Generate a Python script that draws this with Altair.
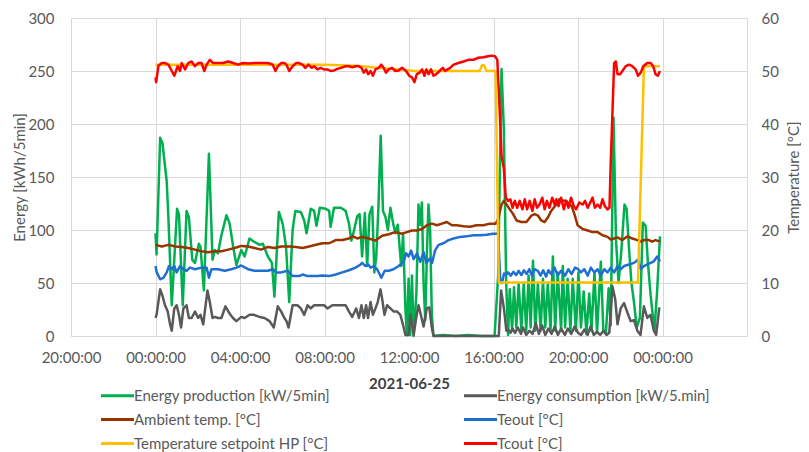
import altair as alt
import pandas as pd

names = ["Energy production [kW/5min]", "Energy consumption [kW/5.min]",
         "Ambient temp. [°C]", "Teout [°C]",
         "Temperature setpoint HP [°C]", "Tcout [°C]"]
colors = ["#00B050", "#595959", "#993300", "#1F6FD0", "#FFC000", "#FF0000"]

# hours since 2021-06-25 00:00
prod_t = [0.00, 0.05, 0.22, 0.33, 0.53, 0.61, 0.77, 0.93, 1.02, 1.11, 1.29, 1.47, 1.58, 1.74, 1.87,
          2.05, 2.13, 2.29, 2.53, 2.70, 2.81, 2.96, 3.12, 3.36, 3.51, 3.67, 3.83, 4.06, 4.22, 4.45,
          4.66, 4.93, 5.08, 5.32, 5.51, 5.63, 5.84, 6.02, 6.18, 6.33, 6.49, 6.62, 6.88, 7.04, 7.15,
          7.35, 7.51, 7.62, 7.78, 8.06, 8.22, 8.29, 8.45, 8.77, 9.00, 9.16, 9.27, 9.39, 9.55, 9.66,
          9.78, 9.91, 10.02, 10.13, 10.26, 10.36, 10.45, 10.55, 10.66, 10.77, 10.89, 11.00, 11.12,
          11.25, 11.36, 11.47, 11.63, 11.72, 11.83, 11.90, 11.98, 12.06, 12.14, 12.22, 12.35, 12.45,
          12.53, 12.61, 12.69, 12.77, 12.85, 12.92, 13.00, 13.08, 13.16, 13.60, 14.20, 14.80, 15.40,
          16.05, 16.22, 16.38, 16.49, 16.60, 16.69, 16.77, 16.88, 16.97, 17.08, 17.19, 17.32, 17.43,
          17.55, 17.66, 17.76, 17.87, 17.98, 18.10, 18.23, 18.34, 18.45, 18.57, 18.70, 18.81, 18.92,
          19.04, 19.20, 19.28, 19.39, 19.51, 19.64, 19.75, 19.90, 20.02, 20.14, 20.27, 20.40, 20.53,
          20.64, 20.78, 20.90, 21.08, 21.20, 21.32, 21.45, 21.55, 21.68, 21.80, 21.92, 22.05, 22.20,
          22.30, 22.42, 22.53, 22.65, 22.78, 22.93, 23.07, 23.20, 23.31, 23.44, 23.62, 23.75, 23.88]
prod_v = [97, 77, 187, 182, 146, 112, 29, 87, 120, 115, 29, 118, 112, 72, 69,
          87, 84, 43, 172, 72, 81, 78, 95, 114, 106, 85, 67, 81, 75, 92,
          89, 86, 87, 75, 69, 37, 117, 106, 84, 32, 100, 118, 117, 109, 97,
          120, 118, 104, 121, 120, 118, 103, 121, 121, 118, 106, 90, 99, 113, 115,
          75, 116, 66, 115, 122, 60, 75, 120, 189, 118, 112, 100, 121,
          106, 97, 105, 66, 95, 26, 1, 54, 1, 57, 0, 40, 124,
          105, 126, 50, 15, 80, 124, 100, 20, 0, 1, 0, 1, 0,
          0, 57, 252, 195, 50, 1, 44, 5, 46, 8, 50, 5, 50,
          5, 57, 8, 71, 5, 50, 5, 54, 8, 50, 5, 75, 5,
          60, 5, 66, 8, 54, 5, 54, 5, 60, 8, 42, 2, 40,
          5, 60, 3, 70, 5, 3, 45, 10, 206, 90, 50, 80, 124,
          120, 81, 50, 32, 8, 17, 107, 104, 69, 38, 5, 44, 94]

cons_t = [0.00, 0.05, 0.22, 0.33, 0.45, 0.58, 0.69, 0.77, 0.89, 1.00, 1.11, 1.21, 1.32, 1.47, 1.58,
          1.71, 1.87, 2.02, 2.13, 2.26, 2.46, 2.57, 2.70, 2.81, 2.96, 3.12, 3.31, 3.51, 3.67, 3.83,
          4.06, 4.22, 4.45, 4.66, 4.93, 5.16, 5.40, 5.60, 5.79, 5.95, 6.10, 6.20, 6.30, 6.49, 6.72,
          6.88, 7.04, 7.20, 7.35, 7.51, 7.75, 7.98, 8.14, 8.37, 8.69, 9.00, 9.16, 9.31, 9.50, 9.63,
          9.75, 9.86, 9.97, 10.06, 10.18, 10.29, 10.41, 10.52, 10.65, 10.73, 10.84, 10.96, 11.12,
          11.28, 11.44, 11.59, 11.75, 11.83, 11.98, 12.06, 12.14, 12.22, 12.34, 12.45, 12.56, 12.69,
          12.84, 12.96, 13.08, 13.16, 16.25, 16.36, 16.50, 16.61, 16.69, 16.80, 16.90, 17.02, 17.15,
          17.30, 17.40, 17.55, 17.70, 17.85, 18.00, 18.15, 18.30, 18.45, 18.60, 18.75, 18.90, 19.05,
          19.20, 19.38, 19.52, 19.68, 19.84, 20.00, 20.15, 20.30, 20.45, 20.60, 20.75, 20.90, 21.05,
          21.20, 21.35, 21.48, 21.63, 21.76, 21.87, 22.02, 22.18, 22.34, 22.49, 22.65, 22.81, 22.96,
          23.12, 23.28, 23.43, 23.59, 23.70, 23.85]
cons_v = [17, 20, 44, 38, 29, 23, 11, 5, 26, 29, 20, 8, 26, 29, 17,
          17, 23, 17, 20, 11, 43, 32, 17, 18, 17, 17, 28, 21, 17, 14,
          18, 17, 20, 20, 18, 17, 14, 8, 28, 23, 17, 14, 8, 29, 29,
          26, 20, 29, 26, 29, 29, 29, 26, 29, 29, 29, 23, 18, 26, 17,
          29, 17, 29, 17, 32, 20, 26, 32, 44, 35, 20, 29, 26,
          23, 23, 20, 8, 1, 1, 20, 11, 1, 17, 29, 20, 9,
          26, 27, 8, 0, 0, 43, 25, 5, 6, 3, 7, 3, 8,
          2, 8, 1, 5, 2, 12, 2, 10, 1, 7, 2, 9, 1,
          7, 1, 7, 2, 9, 3, 1, 6, 1, 9, 1, 4, 1,
          5, 1, 3, 47, 35, 11, 26, 31, 22, 14, 15, 5, 1,
          28, 17, 20, 5, 1, 27]

amb_t = [0.00, 0.30, 0.61, 0.93, 1.24, 1.55, 1.87, 2.18, 2.49, 2.81, 3.12, 3.44, 3.75, 4.06, 4.38,
         4.69, 5.00, 5.32, 5.63, 5.95, 6.33, 6.65, 6.96, 7.27, 7.59, 7.90, 8.22, 8.53, 8.84, 9.16,
         9.35, 9.55, 9.78, 10.10, 10.41, 10.73, 11.04, 11.35, 11.67, 11.90, 12.14, 12.38, 12.62,
         12.85, 13.09, 13.32, 13.56, 13.79, 14.03, 14.26, 14.58, 14.89, 15.20, 15.52, 15.83, 16.11,
         16.22, 16.38, 16.49, 16.62, 16.77, 16.93, 17.09, 17.32, 17.56, 17.79, 17.95, 18.11, 18.26,
         18.42, 18.58, 18.73, 18.97, 19.12, 19.28, 19.44, 19.59, 19.70, 19.83, 19.98, 20.22, 20.46,
         20.69, 20.93, 21.16, 21.40, 21.55, 21.71, 21.87, 22.10, 22.34, 22.57, 22.81, 22.97, 23.12,
         23.36, 23.51, 23.67, 23.88]
amb_v = [17.2, 16.9, 17.2, 16.9, 16.8, 16.6, 16.3, 16.0, 15.8, 16.0, 16.0, 16.3, 16.6, 17.0, 16.9,
         16.6, 16.3, 16.8, 16.6, 16.9, 16.9, 16.8, 16.6, 16.9, 17.2, 17.5, 17.5, 18.1, 18.1, 18.4,
         18.8, 18.4, 18.7, 18.4, 18.0, 18.9, 19.2, 19.6, 19.3, 19.6, 19.9, 19.9, 20.2,
         20.9, 21.2, 20.9, 21.2, 21.5, 20.9, 20.9, 20.7, 20.6, 20.9, 20.9, 21.2, 21.2,
         22.1, 24.8, 25.5, 24.8, 23.9, 23.0, 21.8, 21.5, 21.5, 22.7, 23.0, 22.7, 21.8,
         21.5, 22.4, 23.6, 24.8, 25.8, 25.5, 25.5, 24.8, 24.5, 23.0, 20.9, 20.2, 19.9,
         19.6, 19.6, 19.0, 18.7, 18.2, 18.4, 18.6, 18.1, 18.8, 18.4, 18.1, 17.8, 18.1,
         18.1, 17.8, 18.1, 17.8]

teout_t = [0.00, 0.06, 0.22, 0.38, 0.53, 0.64, 0.77, 0.89, 1.00, 1.16, 1.32, 1.47, 1.63, 1.87, 2.18,
           2.42, 2.53, 2.65, 2.96, 3.28, 3.59, 3.83, 4.06, 4.38, 4.69, 5.00, 5.32, 5.55, 5.71, 5.95,
           6.26, 6.49, 6.80, 6.96, 7.20, 7.43, 7.67, 7.90, 8.22, 8.53, 8.84, 9.16, 9.47, 9.71, 9.78,
           9.94, 10.07, 10.18, 10.33, 10.49, 10.69, 10.85, 11.04, 11.27, 11.51, 11.75, 11.86, 11.98,
           12.10, 12.22, 12.38, 12.53, 12.69, 12.82, 12.98, 13.09, 13.24, 13.40, 13.63, 13.87, 14.11,
           14.42, 14.73, 15.05, 15.36, 15.67, 15.99, 16.22, 16.32, 16.40, 16.50, 16.61, 16.69, 16.82,
           16.94, 17.07, 17.19, 17.32, 17.44, 17.57, 17.69, 17.82, 17.94, 18.10, 18.23, 18.35, 18.49,
           18.60, 18.73, 18.89, 19.04, 19.20, 19.39, 19.54, 19.70, 19.86, 20.01, 20.14, 20.30, 20.46,
           20.61, 20.77, 20.93, 21.08, 21.24, 21.40, 21.55, 21.71, 21.87, 22.02, 22.18, 22.42, 22.65,
           22.84, 22.97, 23.12, 23.28, 23.44, 23.59, 23.75, 23.88]
teout_v = [13.2, 12.0, 10.7, 11.0, 12.0, 13.2, 12.6, 13.2, 12.0, 13.2, 12.6, 12.3, 12.9, 12.6, 12.9,
           12.9, 11.0, 12.6, 12.6, 12.3, 12.6, 12.9, 13.3, 12.6, 12.3, 12.3, 12.3, 12.6, 12.0, 12.0,
           12.3, 11.3, 11.3, 11.6, 11.3, 11.3, 11.3, 11.4, 11.3, 11.6, 12.0, 12.4, 12.9, 13.5, 13.8,
           13.2, 13.5, 12.9, 13.2, 12.6, 11.0, 12.3, 12.3, 12.6, 13.2, 14.0, 15.6, 15.0,
           16.1, 14.5, 15.6, 14.0, 15.8, 13.8, 14.6, 13.8, 16.2, 17.2, 17.5, 18.1, 18.4,
           18.7, 18.8, 19.0, 19.0, 19.1, 19.3, 19.3, 10.4, 10.0, 11.8, 11.6, 12.0, 11.4,
           12.1, 11.5, 12.3, 11.5, 12.4, 11.7, 12.6, 11.4, 12.6, 12.3, 11.4, 12.4, 11.2,
           12.4, 11.7, 12.9, 11.4, 12.3, 11.4, 12.6, 11.7, 12.9, 12.6, 12.0, 12.6, 11.4,
           12.9, 12.0, 12.6, 11.4, 12.6, 12.0, 12.9, 12.0, 13.2, 12.6, 13.2, 13.5, 13.8,
           14.4, 12.6, 13.2, 13.5, 13.8, 14.1, 15.0, 14.1]

setp_t = [0.00, 8.00, 9.50, 10.50, 11.50, 12.30, 15.35, 15.45, 15.55, 15.67, 16.10, 16.25, 22.84,
          23.12, 23.88]
setp_v = [51.2, 51.2, 51.0, 50.6, 50.3, 50.0, 50.0, 51.1, 51.1, 50.0, 50.0, 10.1, 10.1,
          50.9, 50.9]

tcout_t = [0.00, 0.03, 0.14, 0.30, 0.45, 0.61, 0.77, 0.89, 1.05, 1.16, 1.24, 1.40, 1.55, 1.71, 1.87,
           2.02, 2.18, 2.31, 2.42, 2.57, 2.73, 2.96, 3.20, 3.44, 3.67, 3.91, 4.14, 4.38, 4.69, 5.00,
           5.32, 5.55, 5.68, 5.79, 5.95, 6.10, 6.20, 6.33, 6.49, 6.65, 6.80, 6.96, 7.09, 7.24, 7.40,
           7.51, 7.67, 7.82, 7.98, 8.14, 8.29, 8.45, 8.61, 8.77, 9.00, 9.16, 9.31, 9.47, 9.63, 9.75,
           9.86, 9.97, 10.07, 10.18, 10.29, 10.41, 10.57, 10.68, 10.80, 10.91, 11.04, 11.20, 11.35,
           11.51, 11.67, 11.86, 12.01, 12.14, 12.26, 12.37, 12.51, 12.62, 12.73, 12.82, 12.93, 13.04,
           13.16, 13.29, 13.45, 13.60, 13.71, 13.82, 13.95, 14.11, 14.34, 14.58, 14.81, 15.05, 15.28,
           15.52, 15.75, 15.91, 16.07, 16.18, 16.30, 16.38, 16.49, 16.58, 16.69, 16.80, 16.90, 17.01,
           17.12, 17.24, 17.37, 17.48, 17.59, 17.71, 17.84, 17.95, 18.06, 18.18, 18.31, 18.42, 18.53,
           18.65, 18.78, 18.89, 18.97, 19.08, 19.20, 19.33, 19.44, 19.55, 19.67, 19.80, 19.91, 20.06,
           20.22, 20.33, 20.46, 20.58, 20.69, 20.80, 20.93, 21.05, 21.16, 21.27, 21.40, 21.49, 21.55,
           21.63, 21.71, 21.79, 21.87, 22.00, 22.10, 22.26, 22.42, 22.57, 22.73, 22.84, 22.97, 23.09,
           23.28, 23.44, 23.56, 23.67, 23.78, 23.88]
tcout_v = [48.8, 47.9, 51.0, 51.5, 51.5, 51.2, 50.0, 49.1, 50.9, 50.0, 51.5, 50.3, 51.5, 51.8, 50.9,
           51.5, 51.5, 50.0, 51.2, 52.1, 51.5, 51.5, 51.5, 51.8, 51.5, 51.2, 51.5, 51.4, 51.5, 51.5,
           51.5, 51.2, 50.0, 50.9, 51.5, 51.5, 51.2, 50.0, 50.9, 51.5, 51.5, 51.2, 50.6, 51.2, 50.6,
           50.9, 50.3, 50.6, 50.3, 50.3, 50.0, 50.1, 50.4, 50.6, 50.9, 50.9, 50.7, 50.9, 50.9, 50.6,
           49.7, 50.3, 49.4, 50.0, 49.1, 50.3, 50.6, 51.2, 50.6, 49.7, 50.3, 50.6, 50.0,
           50.1, 50.6, 50.0, 49.1, 48.8, 47.9, 49.4, 49.7, 50.3, 49.1, 50.3, 49.4, 50.3,
           49.1, 49.4, 50.0, 50.6, 50.0, 50.3, 50.6, 51.2, 51.5, 51.8, 52.1, 52.1, 52.5,
           52.6, 52.8, 52.9, 52.8, 52.1, 42.0, 34.0, 31.6, 26.1, 25.5, 25.8, 24.2, 25.5,
           24.2, 25.5, 23.9, 25.8, 23.9, 25.5, 23.6, 25.8, 24.2, 24.8, 26.1, 23.9, 25.5,
           24.2, 26.1, 24.8, 25.8, 24.5, 26.1, 23.9, 25.5, 24.2, 26.1, 24.5, 23.9, 25.2,
           24.8, 25.5, 24.2, 25.2, 26.1, 24.2, 24.8, 24.2, 25.8, 24.5, 23.9, 24.2, 32.8,
           42.0, 51.5, 51.8, 49.4, 49.4, 50.0, 50.9, 51.2, 50.9, 50.3, 49.1, 49.7, 50.9,
           51.5, 51.5, 50.9, 49.4, 49.1, 50.0]

base = pd.Timestamp("2021-06-25 00:00:00")


def frame(name, hours, values):
    return pd.DataFrame({
        "time": [base + pd.Timedelta(hours=h) for h in hours],
        "value": values,
        "series": name,
    })


df = pd.concat([
    frame(names[0], prod_t, prod_v),
    frame(names[1], cons_t, cons_v),
    frame(names[2], amb_t, amb_v),
    frame(names[3], teout_t, teout_v),
    frame(names[4], setp_t, setp_v),
    frame(names[5], tcout_t, tcout_v),
], ignore_index=True)

tick_hours = [-4, 0, 4, 8, 12, 16, 20, 24, 28]
tick_vals = []
for h in tick_hours:
    ts = base + pd.Timedelta(hours=h)
    tick_vals.append(alt.DateTime(year=ts.year, month=ts.month, date=ts.day, hours=ts.hour))

x_enc = alt.X(
    "time:T",
    scale=alt.Scale(domain=[tick_vals[0], tick_vals[-1]]),
    axis=alt.Axis(
        values=tick_vals,
        labelExpr="datum.value >= datetime(2021, 5, 26, 2) ? '' : timeFormat(datum.value, '%H:%M:%S')",
        title="2021-06-25", titleFontWeight="bold", titleColor="#404040", titleFontSize=15,
        titlePadding=11, labelPadding=14, labelFontSize=15, labelColor="#595959",
        labelFlush=False, labelOverlap=False, ticks=False, tickSize=0,
        grid=True, gridColor="#D9D9D9", domainColor="#D9D9D9",
    ),
)

legend = alt.Legend(
    orient="none", direction="horizontal", legendX=39, legendY=370, columns=2,
    columnPadding=127, rowPadding=8,
    symbolType="M-3,0H3", symbolSize=121, symbolStrokeWidth=3, labelOffset=9,
    labelFontSize=15, labelColor="#595959", labelLimit=400, title=None, padding=0,
)
color_enc = alt.Color("series:N", scale=alt.Scale(domain=names, range=colors), legend=legend)

y_left = alt.Y("value:Q", scale=alt.Scale(domain=[0, 300]), axis=alt.Axis(
    values=[0, 50, 100, 150, 200, 250, 300], title="Energy [kWh/5min]",
    titleFontWeight="normal", titleFontSize=15, titleColor="#595959", titlePadding=0,
    labelFontSize=15, labelColor="#595959", labelPadding=17, ticks=False, tickSize=0,
    domain=False, grid=True, gridColor="#D9D9D9"))

y_right = alt.Y("value:Q", scale=alt.Scale(domain=[0, 60]), axis=alt.Axis(
    orient="right", values=[0, 10, 20, 30, 40, 50, 60], title="Temperature [°C]",
    titleAngle=270, titleBaseline="top",
    titleFontWeight="normal", titleFontSize=15, titleColor="#595959", titlePadding=8,
    labelFontSize=15, labelColor="#595959", labelPadding=14, ticks=False, tickSize=0,
    domain=False, grid=False))

base_chart = alt.Chart(df)


def series_layer(name, y):
    return base_chart.transform_filter(alt.datum.series == name).mark_line(
        strokeWidth=2.5, strokeJoin="round").encode(x=x_enc, y=y, color=color_enc)


energy = alt.layer(series_layer(names[0], y_left), series_layer(names[1], y_left))
temps = alt.layer(series_layer(names[2], y_right), series_layer(names[3], y_right),
                  series_layer(names[4], y_right), series_layer(names[5], y_right))

chart = alt.layer(energy, temps).resolve_scale(y="independent").properties(
    width=676, height=318,
    autosize=alt.AutoSizeParams(type="none"),
    padding={"left": 63, "top": 10, "right": 54, "bottom": 116},
).configure(font="Lato").configure_view(stroke=None)

chart.save("out.html", embed_options={"renderer": "svg", "actions": False})
